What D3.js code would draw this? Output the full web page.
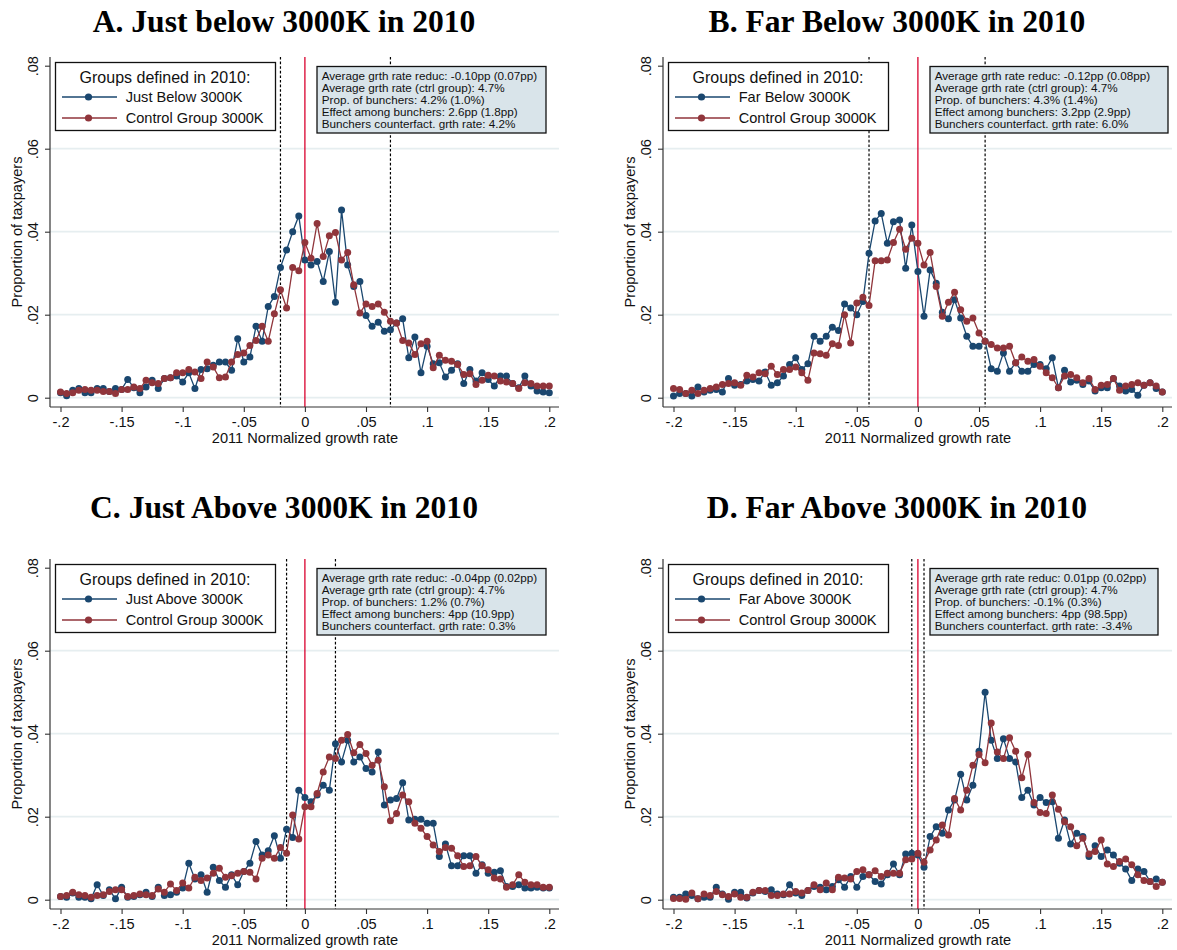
<!DOCTYPE html>
<html>
<head>
<meta charset="utf-8">
<script src="https://cdn.jsdelivr.net/npm/d3@7"></script>
<style>
  html, body { margin: 0; padding: 0; background: #fff; }
  svg { display: block; }
  text { font-family: "Liberation Sans", Arial, sans-serif; fill: #111; }
</style>
</head>
<body>
<svg id="chart" width="1177" height="950"></svg>
<script>
// ---------- DATA ----------
const growthBins = [
  -0.2, -0.195, -0.19, -0.185, -0.18, -0.175, -0.17, -0.165, -0.16, -0.155,
  -0.15, -0.145, -0.14, -0.135, -0.13, -0.125, -0.12, -0.115, -0.11, -0.105,
  -0.1, -0.095, -0.09, -0.085, -0.08, -0.075, -0.07, -0.065, -0.06, -0.055,
  -0.05, -0.045, -0.04, -0.035, -0.03, -0.025, -0.02, -0.015, -0.01, -0.005,
  0, 0.005, 0.01, 0.015, 0.02, 0.025, 0.03, 0.035, 0.04, 0.045,
  0.05, 0.055, 0.06, 0.065, 0.07, 0.075, 0.08, 0.085, 0.09, 0.095,
  0.1, 0.105, 0.11, 0.115, 0.12, 0.125, 0.13, 0.135, 0.14, 0.145,
  0.15, 0.155, 0.16, 0.165, 0.17, 0.175, 0.18, 0.185, 0.19, 0.195, 0.2
];

// Panel A
const justBelow = [
  .0012, .0005, .0018, .0022, .0012, .0012, .0022, .0022, .0015, .0022,
  .002, .0044, .0024, .0012, .0026, .0042, .0022, .0046, .0048, .0052,
  .0038, .006, .0022, .0068, .007, .0078, .0086, .0086, .0066, .0142,
  .0086, .0098, .0172, .0136, .022, .0244, .0314, .0356, .040, .0438,
  .0332, .032, .0328, .028, .0352, .023, .0452, .032, .0268, .028,
  .0198, .0172, .0182, .016, .0164, .018, .019, .0096, .0146, .006,
  .0124, .0082, .0084, .005, .0066, .0082, .0034, .0068, .004, .006,
  .0044, .0028, .0052, .0052, .0034, .0024, .0052, .0028, .0016, .0014, .0012
];
const controlA = [
  .0014, .001, .0012, .0018, .002, .0018, .0018, .0015, .0015, .001,
  .002, .002, .0026, .0022, .0042, .0036, .0034, .0046, .0048, .006,
  .006, .0068, .0062, .0046, .0086, .0074, .0048, .005, .0086, .0104,
  .0108, .0126, .0138, .0172, .0136, .0202, .026, .0216, .0314, .0306,
  .0374, .0336, .042, .034, .039, .0398, .0332, .035, .0272, .0204,
  .0226, .022, .0226, .0206, .0184, .018, .0138, .0132, .0104, .013,
  .0136, .0072, .0102, .009, .0088, .008, .0056, .0058, .0032, .0042,
  .0054, .0052, .004, .0038, .0034, .0022, .0036, .0034, .0028, .0028, .0028
];

// Panel B
const farBelow = [
  .0004, .001, .001, .0004, .0026, .0014, .0018, .002, .0014, .0046,
  .003, .0032, .004, .0044, .004, .0062, .003, .0036, .0052, .008,
  .0096, .0068, .0082, .0148, .0136, .0148, .017, .0162, .0226, .0216,
  .02, .0232, .0348, .0426, .0444, .0372, .0424, .0428, .0312, .0416,
  .0304, .0196, .0308, .0276, .0206, .019, .0236, .0192, .0148, .0124,
  .0124, .0136, .007, .0064, .0108, .0064, .0084, .0064, .0064, .008,
  .008, .007, .0096, .0024, .0066, .0038, .0042, .0032, .004, .0016,
  .0024, .0024, .0046, .0028, .0016, .002, .0006, .003, .0036, .0022, .0014
];
const controlB = [
  .0022, .002, .001, .0018, .001, .0018, .0022, .0026, .0032, .0034,
  .0036, .003, .0054, .005, .006, .0058, .0076, .0056, .0068, .0068,
  .0074, .006, .0042, .0108, .0106, .0102, .013, .0126, .02, .0132,
  .0228, .0242, .0222, .033, .033, .0332, .0374, .0406, .0358, .0384,
  .0372, .032, .035, .0268, .0196, .023, .0254, .0212, .0184, .0192,
  .0156, .0136, .0128, .012, .012, .0124, .0084, .0098, .0088, .0092,
  .0076, .006, .0048, .0024, .0052, .0056, .0048, .0036, .0046, .002,
  .003, .0032, .0046, .0018, .0028, .0032, .0036, .003, .0036, .0028, .0014
];

// Panel C
const justAbove = [
  .0008, .0006, .0016, .0006, .0006, .0002, .0036, .001, .0024, .0002,
  .003, .0006, .0008, .0012, .0018, .0008, .003, .001, .0012, .0018,
  .0028, .0088, .005, .006, .0018, .0078, .0046, .003, .006, .0036,
  .0068, .0088, .014, .0108, .0118, .0154, .01, .017, .015, .0264,
  .0246, .0236, .0252, .0276, .0264, .0376, .0332, .0384, .0332, .0344,
  .0316, .0308, .0356, .0228, .024, .0244, .0282, .0192, .0194, .0194,
  .0184, .0184, .0104, .0134, .0082, .0082, .0106, .0106, .0064, .0084,
  .0064, .0066, .007, .0032, .0032, .0036, .0028, .0028, .003, .0028, .0028
];
const controlC = [
  .0008, .001, .0018, .0012, .001, .0006, .001, .0012, .002, .0024,
  .0024, .0008, .001, .0014, .0012, .001, .0026, .0018, .0038, .0022,
  .004, .0028, .0054, .0046, .0052, .0064, .0076, .0054, .0058, .0064,
  .0068, .0066, .005, .01, .0108, .01, .0126, .0112, .0204, .0146,
  .0224, .0224, .0256, .0308, .0344, .034, .0384, .0398, .0354, .0374,
  .0352, .0324, .0336, .0272, .019, .0208, .0252, .0236, .0184, .0172,
  .0152, .0132, .0116, .0126, .0124, .0106, .008, .0082, .0104, .0082,
  .0072, .0052, .005, .003, .0036, .006, .0042, .0036, .0036, .003, .003
];

// Panel D
const farAbove = [
  .0006, .0006, .0014, .001, .0002, .0006, .0006, .003, .0014, .0001,
  .0018, .0018, .0004, .0016, .0022, .002, .0024, .0014, .0012, .0036,
  .0016, .001, .0022, .0032, .003, .0024, .0032, .0048, .003, .0056,
  .003, .0056, .006, .0044, .0038, .006, .0086, .006, .011, .0112,
  .0108, .0078, .0152, .0176, .016, .0216, .024, .0302, .024, .0276,
  .0358, .05, .0384, .034, .0388, .034, .0332, .0246, .0264, .0228,
  .0246, .0234, .0236, .0148, .0192, .0134, .016, .0152, .0104, .013,
  .0104, .012, .0108, .0088, .0074, .0046, .0074, .0068, .0044, .005, .0042
];
const controlD = [
  .0003, .0003, .0001, .0016, .0002, .0014, .001, .002, .0012, .0008,
  .0014, .0006, .0006, .0018, .0022, .0022, .001, .001, .0014, .0014,
  .002, .0016, .0022, .0036, .0024, .004, .0024, .0054, .0052, .005,
  .0068, .0072, .006, .007, .0056, .0064, .0064, .0064, .0096, .0098,
  .0112, .009, .012, .0144, .018, .0156, .0244, .0216, .0264, .0324,
  .035, .033, .0426, .0356, .034, .039, .0358, .0294, .035, .0234,
  .021, .0208, .0252, .0218, .0188, .0176, .013, .0148, .011, .0116,
  .0144, .0086, .008, .0092, .0098, .0084, .006, .0046, .0044, .0032, .0042
];

const panelTitles = [
  "A. Just below 3000K in 2010",
  "B. Far Below 3000K in 2010",
  "C. Just Above 3000K in 2010",
  "D. Far Above 3000K in 2010"
];
const groupLabels = ["Just Below 3000K", "Far Below 3000K", "Just Above 3000K", "Far Above 3000K"];
const controlLabel = "Control Group 3000K";
const legendTitle = "Groups defined in 2010:";

const statsA = ["Average grth rate reduc: -0.10pp (0.07pp)", "Average grth rate (ctrl group): 4.7%",
  "Prop. of bunchers: 4.2% (1.0%)", "Effect among bunchers: 2.6pp (1.8pp)", "Bunchers counterfact. grth rate: 4.2%"];
const statsB = ["Average grth rate reduc: -0.12pp (0.08pp)", "Average grth rate (ctrl group): 4.7%",
  "Prop. of bunchers: 4.3% (1.4%)", "Effect among bunchers: 3.2pp (2.9pp)", "Bunchers counterfact. grth rate: 6.0%"];
const statsC = ["Average grth rate reduc: -0.04pp (0.02pp)", "Average grth rate (ctrl group): 4.7%",
  "Prop. of bunchers: 1.2% (0.7%)", "Effect among bunchers: 4pp (10.9pp)", "Bunchers counterfact. grth rate: 0.3%"];
const statsD = ["Average grth rate reduc: 0.01pp (0.02pp)", "Average grth rate (ctrl group): 4.7%",
  "Prop. of bunchers: -0.1% (0.3%)", "Effect among bunchers: 4pp (98.5pp)", "Bunchers counterfact. grth rate: -3.4%"];

// excluded-window bounds (dashed) for each panel
const windowBounds = [[-0.02, 0.07], [-0.04, 0.055], [-0.015, 0.025], [-0.005, 0.005]];
const thresholdX = 0;

const xTicks = [-0.2, -0.15, -0.1, -0.05, 0, 0.05, 0.1, 0.15, 0.2];
const xTickLabels = ["-.2", "-.15", "-.1", "-.05", "0", ".05", ".1", ".15", ".2"];
const yTicks = [0, 0.02, 0.04, 0.06, 0.08];
const yTickLabels = ["0", ".02", ".04", ".06", ".08"];
const gridTicks = [0, 0.02, 0.04, 0.06];
const xAxisTitle = "2011 Normalized growth rate";
const yAxisTitle = "Proportion of taxpayers";

// ---------- DRAW ----------
const BLUE = "#1a476f", RED = "#90353b", VLINE = "#d8002c";
const svg = d3.select("#chart");

const panels = [
  { ox: 0,   oy: 0,   titleY: 32,  treat: justBelow, ctrl: controlA, stats: statsA, boxW: 229 },
  { ox: 613, oy: 0,   titleY: 32,  treat: farBelow,  ctrl: controlB, stats: statsB, boxW: 238 },
  { ox: 0,   oy: 502, titleY: 16,  treat: justAbove, ctrl: controlC, stats: statsC, boxW: 229 },
  { ox: 613, oy: 502, titleY: 16,  treat: farAbove,  ctrl: controlD, stats: statsD, boxW: 228 }
];

panels.forEach((p, k) => {
  const g = svg.append("g").attr("transform", `translate(${p.ox},${p.oy})`);
  const L = 50, R = 559, T = 57, B = 407;
  const x = d3.scaleLinear().domain([-0.2, 0.2]).range([60.5, 549.3]);
  const y = d3.scaleLinear().domain([0, 0.08]).range([397.7, 65.7]);

  // title
  g.append("text").attr("x", 284).attr("y", p.titleY).attr("text-anchor", "middle")
    .style("font-family", '"Liberation Serif", "Times New Roman", serif')
    .style("font-weight", "bold").style("font-size", "31.6px").style("fill", "#000")
    .text(panelTitles[k]);

  // gridlines
  g.selectAll(".grid").data(gridTicks).join("line")
    .attr("x1", L).attr("x2", R).attr("y1", d => y(d)).attr("y2", d => y(d))
    .attr("stroke", "#e6eef0").attr("stroke-width", 1.8);

  // vertical reference lines
  g.selectAll(".win").data(windowBounds[k]).join("line")
    .attr("x1", d => x(d)).attr("x2", d => x(d)).attr("y1", T).attr("y2", B)
    .attr("stroke", "#000").attr("stroke-width", 1.2).attr("stroke-dasharray", "2.6,2");
  g.append("line").attr("x1", x(thresholdX)).attr("x2", x(thresholdX)).attr("y1", T).attr("y2", B)
    .attr("stroke", VLINE).attr("stroke-width", 1.3);

  // series
  const line = d3.line().x((d, i) => x(growthBins[i])).y(d => y(d));
  [[p.treat, BLUE], [p.ctrl, RED]].forEach(([vals, col]) => {
    g.append("path").datum(vals).attr("d", line).attr("fill", "none")
      .attr("stroke", col).attr("stroke-width", 1.3);
    g.append("g").selectAll("circle").data(vals).join("circle")
      .attr("cx", (d, i) => x(growthBins[i])).attr("cy", d => y(d)).attr("r", 3.5)
      .attr("fill", col);
  });

  // x axis
  const xa = g.append("g").attr("transform", `translate(0,${B})`)
    .call(d3.axisBottom(x).tickValues(xTicks).tickSize(5).tickPadding(4)
      .tickFormat((d, i) => xTickLabels[i]));
  xa.select(".domain").remove();
  xa.selectAll("line").attr("stroke", "#333").attr("stroke-width", 1.1);
  xa.selectAll("text").style("font-size", "14.6px").style("font-family", '"Liberation Sans", Arial, sans-serif')
    .attr("fill", "#111").attr("dy", null).attr("y", 20);
  g.append("line").attr("x1", L).attr("x2", R).attr("y1", B).attr("y2", B)
    .attr("stroke", "#333").attr("stroke-width", 1.2);

  // y axis
  const ya = g.append("g").attr("transform", `translate(${L},0)`)
    .call(d3.axisLeft(y).tickValues(yTicks).tickSize(5)
      .tickFormat((d, i) => yTickLabels[i]));
  ya.select(".domain").remove();
  ya.selectAll("line").attr("stroke", "#333").attr("stroke-width", 1.1);
  ya.selectAll("text").style("font-size", "14.6px").style("font-family", '"Liberation Sans", Arial, sans-serif')
    .attr("fill", "#111").attr("dy", null).attr("x", 0).attr("y", -12)
    .attr("text-anchor", "middle").attr("transform", "rotate(-90)");
  g.append("line").attr("x1", L).attr("x2", L).attr("y1", T).attr("y2", B)
    .attr("stroke", "#333").attr("stroke-width", 1.2);

  // axis titles
  g.append("text").attr("x", 305).attr("y", 442.5).attr("text-anchor", "middle")
    .style("font-size", "14.6px").text(xAxisTitle);
  g.append("text").attr("transform", `translate(22,232) rotate(-90)`).attr("text-anchor", "middle")
    .style("font-size", "14.6px").text(yAxisTitle);

  // legend
  const lg = g.append("g");
  lg.append("rect").attr("x", 55.5).attr("y", 62.5).attr("width", 220).attr("height", 68)
    .attr("fill", "#fff").attr("stroke", "#111").attr("stroke-width", 1.3);
  lg.append("text").attr("x", 165).attr("y", 82.5).attr("text-anchor", "middle")
    .style("font-size", "16px").text(legendTitle);
  [[groupLabels[k], BLUE, 97], [controlLabel, RED, 118]].forEach(([lab, col, yy]) => {
    lg.append("line").attr("x1", 62).attr("x2", 117).attr("y1", yy).attr("y2", yy)
      .attr("stroke", col).attr("stroke-width", 1.3);
    lg.append("circle").attr("cx", 88.5).attr("cy", yy).attr("r", 3.6).attr("fill", col);
    lg.append("text").attr("x", 125.7).attr("y", yy + 5.3).style("font-size", "14.6px").text(lab);
  });

  // stats box
  const sb = g.append("g");
  sb.append("rect").attr("x", 317).attr("y", 66.5).attr("width", p.boxW).attr("height", 66.5)
    .attr("fill", "#d9e4ea").attr("stroke", "#111").attr("stroke-width", 1.3);
  sb.selectAll("text").data(p.stats).join("text")
    .attr("x", 321.7).attr("y", (d, i) => 80.3 + i * 11.8)
    .style("font-size", "11.7px").text(d => d);
});
</script>
</body>
</html>
